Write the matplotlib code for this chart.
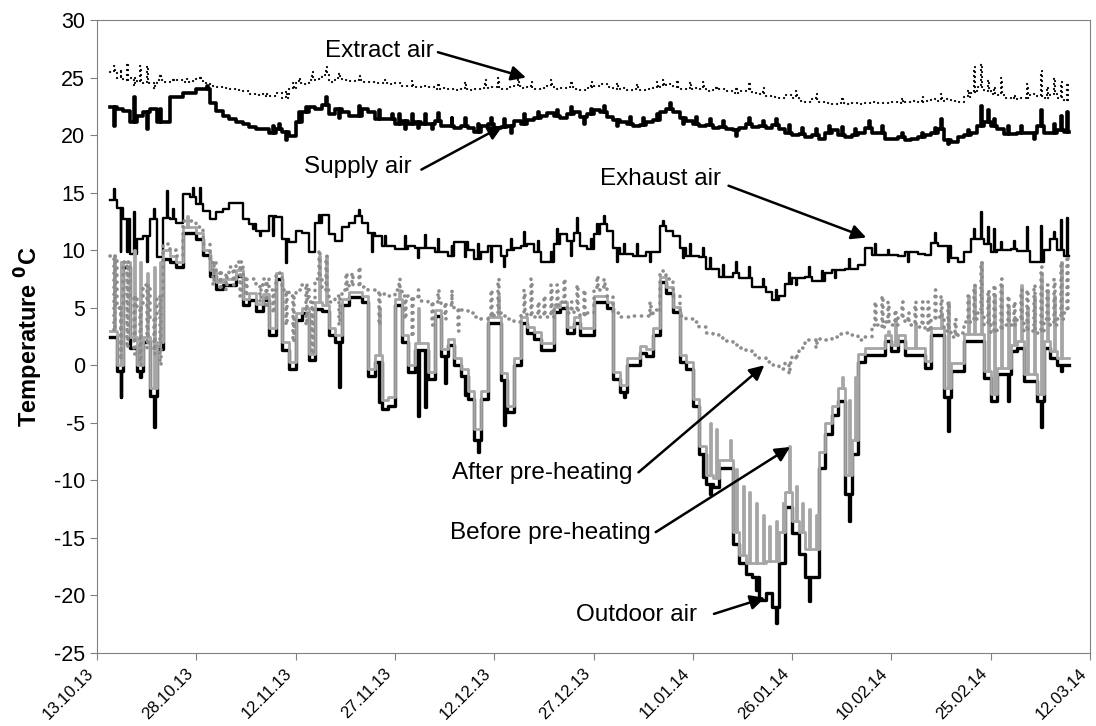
import matplotlib
matplotlib.use("Agg")
import matplotlib.pyplot as plt
from matplotlib.transforms import ScaledTranslation

plt.rcParams['font.family'] = ['Liberation Sans', 'DejaVu Sans']
plt.rcParams['mathtext.default'] = 'bf'
plt.rcParams['axes.unicode_minus'] = False

# x axis: days after 13.10.13, one label every 15 days
tick_days = [0, 15, 30, 45, 60, 75, 90, 105, 120, 135, 150]
tick_labels = ['13.10.13', '28.10.13', '12.11.13', '27.11.13', '12.12.13',
               '27.12.13', '11.01.14', '26.01.14', '10.02.14', '25.02.14',
               '12.03.14']

# daily values from 15.10.13 (day 2) to 07.03.14 (day 146)
days = list(range(2, 147))

outdoor = [2.5, -0.5, 8.5, 1.5, -0.5, 2.0, -2.7, 1.4, 9.2, 9.0,
           8.5, 11.5, 11.5, 11.0, 9.6, 7.8, 6.6, 7.0, 7.0, 7.8,
           5.2, 5.7, 4.7, 5.7, 2.6, 7.5, 1.3, -0.3, 3.9, 4.5,
           0.5, 4.9, 4.7, 2.6, 2.0, 5.2, 5.9, 5.9, 5.5, -0.9,
           0.3, -3.8, -3.5, 5.2, 2.0, -0.6, 1.3, 1.3, -1.2, 4.3,
           0.8, 1.8, 0.0, -0.9, -2.9, -6.5, -2.9, 3.7, 3.7, -1.3,
           -4.1, 0.0, 3.7, 2.8, 2.3, 1.3, 1.3, 4.6, 5.0, 2.8,
           3.7, 2.6, 2.6, 5.5, 5.5, 5.0, -1.2, -2.3, 0.0, 0.0,
           1.1, 0.8, 2.6, 7.2, 6.3, 4.6, 0.3, -0.3, -3.5, -7.7,
           -10.3, -10.6, -8.9, -8.9, -15.5, -17.2, -18.1, -18.4, -20.4, -19.8,
           -21.0, -17.2, -12.3, -14.6, -16.4, -18.4, -18.4, -8.9, -6.0, -4.3,
           -3.1, -11.2, -7.7, 0.3, 0.9, 0.9, 0.9, 2.1, 1.2, 2.1,
           0.9, 0.9, 0.9, -0.2, 2.6, 2.6, -2.8, -0.5, -0.5, 2.1,
           2.1, 2.1, -1.1, -3.1, -0.8, -0.8, 1.2, 1.5, -1.4, -1.4,
           -3.1, 1.5, 0.6, 0.0, 0.0]
outdoor_spikes = {3: -2.8, 6: -1.0, 8: -5.4, 36: -1.9, 42: -3.2, 48: -4.4,
                  49: -3.6, 52: -1.5, 55: -2.6, 57: -7.5, 61: -5.2, 79: -2.8,
                  91: -9.7, 92: -11.2, 99: -19.5, 102: -22.4, 107: -20.5,
                  113: -13.5, 128: -5.7, 137: -3.1, 142: -5.4, 145: -0.5}

before = [3.0, 0.0, 9.0, 2.5, 0.0, 2.5, -2.0, 2.0, 10.0, 9.5,
          9.0, 12.0, 12.0, 11.5, 10.0, 8.3, 7.2, 7.5, 7.5, 8.3,
          5.8, 6.3, 5.3, 6.2, 3.2, 8.0, 2.0, 0.3, 4.5, 5.0,
          1.0, 5.5, 5.2, 3.2, 2.6, 5.8, 6.4, 6.4, 6.0, -0.3,
          0.9, -3.0, -2.8, 5.8, 2.6, 0.0, 1.9, 1.9, -0.6, 4.8,
          1.4, 2.3, 0.6, -0.3, -2.2, -5.5, -2.2, 4.2, 4.2, -0.7,
          -3.5, 0.6, 4.2, 3.3, 2.9, 1.9, 1.9, 5.1, 5.5, 3.3,
          4.2, 3.2, 3.2, 6.0, 6.0, 5.5, -0.6, -1.7, 0.6, 0.6,
          1.7, 1.4, 3.2, 7.7, 6.8, 5.1, 0.9, 0.3, -2.9, -7.0,
          -9.5, -9.8, -8.2, -8.2, -14.5, -16.5, -17.2, -17.2, -17.2, -17.0,
          -17.0, -14.5, -11.0, -13.5, -14.5, -16.0, -16.0, -7.5, -5.0, -3.5,
          -2.0, -9.5, -6.5, 1.0, 1.5, 1.5, 1.5, 2.6, 1.8, 2.6,
          1.5, 1.5, 1.5, 0.4, 3.2, 3.2, -2.0, 0.2, 0.2, 2.7,
          2.7, 2.7, -0.5, -2.5, -0.2, -0.2, 1.8, 2.1, -0.8, -0.8,
          -2.5, 2.1, 1.2, 0.6, 0.6]
before_spikes = {2: 9.5, 3: 9.0, 5: 10.0, 6: 9.0, 7: 8.0, 8: 8.5, 9: 9.0,
                 13: 13.0, 33: 9.5, 34: 9.5, 42: 5.0, 45: 6.5, 48: 5.0, 60: 6.0,
                 92: -5.0, 93: -5.5, 95: -6.5, 96: -9.0, 97: -10.5, 98: -11.0,
                 99: -12.0, 100: -13.0, 101: -14.0, 102: -13.5, 103: -12.0,
                 104: -7.0, 105: -10.5, 106: -12.0, 107: -12.5, 108: -13.0,
                 112: -1.0, 113: -3.0, 114: -1.0, 119: 3.0, 120: 4.0, 123: 3.5,
                 127: 4.5, 128: 5.5, 131: 6.0, 132: 7.0, 133: 9.0, 134: 6.0,
                 135: 6.0, 136: 7.0, 137: 5.0, 138: 4.0, 139: 7.0, 140: 5.0,
                 141: 6.0, 142: 8.0, 143: 6.5, 144: 6.0, 145: 9.0}

after = [9.5, 5.0, 9.0, 6.0, 5.0, 7.0, 4.0, 6.0, 10.5, 10.0,
         9.5, 12.5, 12.5, 12.0, 10.5, 9.0, 8.0, 8.0, 8.5, 9.0,
         7.5, 7.5, 7.0, 7.5, 6.5, 8.0, 6.5, 6.0, 6.5, 7.0,
         5.5, 7.5, 6.5, 5.5, 6.0, 6.5, 7.0, 7.0, 6.8, 6.5,
         6.3, 6.2, 6.0, 6.5, 6.0, 5.8, 5.8, 5.6, 5.5, 5.5,
         5.3, 5.2, 5.0, 4.8, 4.5, 4.2, 4.0, 4.2, 4.5, 4.3,
         4.0, 3.8, 4.5, 4.3, 4.2, 4.3, 4.2, 5.2, 5.5, 4.5,
         4.8, 4.3, 4.5, 6.5, 6.8, 6.0, 4.5, 4.2, 4.2, 4.3,
         4.3, 4.3, 4.8, 8.2, 7.5, 6.0, 4.3, 4.0, 3.8, 3.3,
         2.8, 2.6, 2.4, 2.1, 1.8, 1.5, 1.2, 0.9, 0.6, 0.3,
         0.0, -0.3, 0.2, 0.8, 1.5, 2.2, 2.2, 2.3, 2.2, 2.5,
         2.7, 2.8, 2.6, 2.2, 2.5, 3.5, 3.3, 3.8, 3.5, 4.2,
         3.8, 3.5, 3.3, 3.0, 4.0, 4.2, 3.0, 2.5, 2.8, 3.8,
         4.0, 4.5, 3.5, 2.8, 3.2, 3.5, 3.5, 4.0, 3.0, 3.0,
         2.8, 4.0, 3.5, 4.0, 4.5]
after_spikes = {2: 3.0, 3: 0.5, 4: 1.5, 5: 1.0, 6: 0.0, 7: 1.5, 8: 1.0, 9: 0.0,
                17: 7.0, 18: 6.5, 19: 6.5, 20: 7.0, 21: 6.0, 22: 6.0, 24: 5.5,
                25: 5.0, 26: 4.5, 28: 3.5, 29: 2.0, 31: 3.5, 32: 1.0, 33: 10.0,
                34: 9.5, 36: 3.5, 37: 8.0, 38: 8.0, 39: 8.5, 42: 3.5, 45: 7.5,
                46: 4.0, 47: 2.5, 48: 6.5, 50: 3.5, 51: 6.5, 52: 4.0, 53: 6.5,
                54: 3.0, 59: 6.5, 60: 7.5, 64: 6.5, 65: 7.5, 66: 5.5, 67: 6.0,
                68: 7.0, 69: 7.0, 70: 7.5, 71: 5.5, 72: 7.0, 73: 6.5, 75: 7.8,
                76: 7.5, 83: 5.5, 84: 5.0, 104: -0.8, 105: 0.5, 108: 1.5,
                117: 5.5, 118: 6.0, 119: 5.5, 120: 4.8, 121: 5.5, 122: 4.5,
                123: 5.5, 124: 5.5, 125: 5.5, 126: 6.5, 127: 6.0, 128: 5.5,
                129: 4.0, 131: 6.0, 132: 7.0, 133: 9.0, 134: 6.5, 135: 7.0,
                136: 7.5, 137: 6.0, 138: 5.5, 139: 6.5, 140: 6.5, 141: 7.0,
                142: 8.5, 143: 7.0, 144: 7.5, 145: 9.0, 146: 9.5}

exhaust = [14.4, 13.7, 12.7, 9.7, 11.0, 11.2, 12.7, 9.4, 12.8, 12.7,
           12.4, 14.9, 14.6, 14.0, 13.4, 12.7, 13.3, 13.6, 14.1, 14.1,
           12.7, 12.3, 11.7, 11.7, 13.0, 12.9, 11.0, 10.7, 11.7, 11.5,
           9.8, 12.4, 13.1, 11.4, 10.8, 12.0, 12.4, 13.0, 12.4, 11.5,
           11.2, 10.4, 10.4, 10.1, 10.1, 10.4, 10.2, 10.2, 10.2, 9.8,
           9.8, 9.5, 10.7, 10.7, 10.0, 9.2, 9.8, 10.4, 10.4, 9.5,
           10.0, 10.2, 10.4, 10.5, 9.8, 9.0, 9.0, 10.5, 11.4, 10.8,
           11.5, 10.4, 10.1, 11.4, 12.3, 11.7, 10.2, 9.7, 9.7, 9.5,
           9.5, 9.8, 9.8, 12.1, 11.7, 11.2, 10.2, 9.5, 9.5, 9.4,
           8.4, 8.4, 7.7, 7.7, 8.0, 7.6, 7.6, 6.8, 6.8, 6.4,
           5.7, 6.0, 7.1, 7.6, 7.6, 7.7, 7.3, 7.3, 8.0, 8.3,
           8.3, 8.4, 8.4, 8.7, 10.2, 9.6, 9.6, 9.6, 9.6, 9.5,
           9.8, 9.8, 9.7, 9.6, 10.6, 10.4, 10.4, 9.3, 9.0, 9.8,
           11.0, 11.0, 10.5, 9.8, 10.0, 10.0, 10.1, 9.9, 9.9, 9.0,
           9.0, 10.0, 11.0, 10.0, 9.5]
exhaust_spikes = {2: 15.3, 3: 9.8, 4: 9.8, 5: 13.3, 7: 9.0, 8: 13.6, 10: 15.1,
                  11: 13.6, 14: 15.4, 15: 15.4, 23: 11.8, 24: 11.2, 26: 11.2,
                  28: 8.9, 33: 13.1, 39: 13.5, 41: 9.8, 43: 11.2, 46: 11.2,
                  48: 9.3, 49: 11.3, 51: 11.0, 53: 10.4, 55: 9.4, 57: 10.5,
                  59: 9.0, 61: 8.5, 62: 11.0, 64: 11.6, 66: 10.8, 68: 9.8,
                  69: 11.8, 71: 9.5, 72: 12.8, 74: 11.0, 75: 12.3, 76: 13.0,
                  78: 9.0, 79: 10.5, 81: 10.5, 83: 9.0, 85: 12.5, 88: 9.3,
                  89: 10.5, 91: 10.2, 92: 9.3, 94: 8.7, 96: 9.0, 98: 8.5,
                  100: 7.5, 102: 6.5, 104: 8.0, 105: 7.0, 107: 8.5, 109: 8.2,
                  111: 7.6, 113: 9.2, 117: 10.5, 119: 10.0, 122: 9.0, 126: 11.5,
                  128: 9.0, 132: 11.8, 133: 13.3, 134: 12.0, 135: 11.8,
                  136: 10.7, 138: 10.8, 140: 12.0, 142: 12.1, 144: 11.6,
                  145: 12.6, 146: 12.8}

supply = [22.4, 22.3, 22.1, 21.1, 21.7, 22.0, 22.3, 21.1, 21.1, 23.3,
          23.3, 23.7, 23.7, 24.0, 24.0, 22.8, 22.1, 21.7, 21.4, 21.1,
          21.0, 20.7, 20.5, 20.5, 20.2, 20.5, 20.3, 19.9, 21.1, 22.0,
          22.4, 22.3, 22.6, 21.8, 22.3, 22.0, 21.7, 21.7, 22.3, 22.0,
          21.4, 21.4, 21.4, 21.0, 21.2, 21.0, 21.1, 21.0, 21.0, 21.2,
          20.8, 20.8, 20.6, 20.8, 20.6, 20.3, 20.8, 21.0, 20.6, 20.7,
          20.8, 21.2, 21.0, 21.3, 21.5, 21.7, 21.9, 21.7, 21.5, 21.8,
          22.0, 21.6, 21.8, 22.2, 22.0, 21.6, 21.3, 21.1, 21.0, 20.8,
          20.9, 21.1, 21.3, 22.0, 22.3, 22.0, 21.5, 21.2, 21.0, 20.8,
          20.9, 20.6, 20.7, 20.5, 20.4, 20.6, 21.0, 20.7, 20.8, 20.6,
          20.9, 20.5, 20.2, 20.0, 20.1, 19.8, 20.0, 19.7, 20.2, 20.4,
          20.0, 19.8, 20.0, 20.2, 20.6, 20.2, 20.2, 19.7, 19.7, 19.8,
          19.6, 19.7, 19.8, 20.0, 20.2, 20.5, 19.6, 19.4, 19.8, 20.0,
          20.2, 20.8, 21.1, 20.8, 20.5, 20.1, 20.1, 20.2, 20.2, 20.2,
          20.8, 20.2, 20.2, 20.4, 20.3]
supply_spikes = {2: 20.8, 5: 23.3, 7: 20.5, 9: 22.3, 16: 24.3, 26: 20.8,
                 27: 21.0, 28: 19.6, 30: 22.0, 31: 22.4, 34: 23.3, 36: 21.5,
                 39: 22.5, 42: 22.2, 44: 21.8, 45: 21.8, 46: 20.5, 47: 21.8,
                 48: 20.6, 49: 21.8, 50: 20.5, 51: 21.9, 53: 21.5, 55: 21.5,
                 57: 21.0, 59: 21.5, 61: 21.4, 62: 20.2, 64: 21.8, 66: 22.0,
                 69: 22.2, 71: 22.4, 73: 21.0, 74: 22.3, 76: 22.5, 78: 20.8,
                 80: 21.6, 82: 21.5, 84: 21.8, 86: 22.8, 88: 21.0, 90: 21.6,
                 92: 21.4, 94: 21.2, 96: 19.9, 98: 21.5, 100: 21.2, 102: 21.4,
                 104: 20.9, 106: 20.6, 108: 20.5, 110: 20.8, 112: 20.7,
                 114: 20.5, 116: 21.2, 118: 20.8, 121: 20.2, 124: 20.2,
                 126: 20.6, 127: 21.4, 128: 19.2, 131: 20.4, 133: 22.5,
                 134: 22.2, 135: 21.4, 137: 20.8, 139: 20.8, 141: 19.7,
                 142: 22.2, 144: 21.0, 145: 21.7, 146: 22.0}

extract = [25.5, 25.0, 24.8, 25.0, 24.6, 24.5, 24.5, 24.8, 24.6, 24.7,
           24.8, 24.6, 24.7, 24.9, 24.5, 24.3, 24.2, 24.1, 24.0, 23.9,
           23.8, 23.6, 23.5, 23.6, 23.4, 23.7, 23.2, 24.0, 24.5, 24.4,
           24.8, 24.9, 25.2, 24.6, 25.0, 24.8, 24.7, 24.8, 24.6, 24.6,
           24.5, 24.5, 24.4, 24.5, 24.3, 24.3, 24.2, 24.3, 24.2, 24.0,
           24.1, 24.0, 23.9, 24.0, 23.9, 24.0, 24.1, 24.2, 24.2, 24.0,
           24.2, 24.3, 24.1, 24.2, 24.0, 24.1, 24.3, 24.0, 24.1, 24.2,
           24.0, 23.9, 24.1, 24.3, 24.4, 24.2, 24.0, 24.1, 23.9, 24.0,
           23.9, 24.0, 24.1, 24.3, 24.4, 24.2, 24.0, 24.0, 24.1, 24.0,
           23.8, 23.9, 24.0, 23.8, 23.7, 23.8, 24.0, 23.7, 23.6, 23.4,
           23.3, 23.2, 23.5, 23.2, 23.0, 22.9, 23.1, 22.9, 22.8, 22.7,
           22.8, 22.7, 22.8, 22.7, 22.8, 22.9, 22.8, 22.8, 22.9, 22.8,
           22.9, 23.0, 22.9, 23.0, 23.1, 23.0, 23.1, 23.0, 22.9, 23.3,
           23.7, 24.2, 23.8, 23.6, 23.5, 23.2, 23.1, 23.2, 23.2, 23.6,
           23.4, 23.2, 23.6, 23.2, 23.0]
extract_spikes = {2: 26.0, 3: 25.7, 4: 26.3, 5: 24.3, 6: 26.0, 7: 26.0, 8: 24.0,
                  9: 25.3, 11: 25.0, 13: 24.9, 15: 25.1, 25: 23.3, 28: 23.8,
                  29: 24.5, 30: 25.0, 32: 25.5, 34: 25.9, 36: 25.4, 39: 25.1,
                  43: 24.8, 47: 24.7, 51: 24.5, 55: 24.6, 58: 24.8, 60: 25.0,
                  63: 24.9, 65: 24.6, 68: 24.8, 71: 24.7, 74: 24.6, 78: 24.5,
                  81: 24.4, 84: 24.6, 85: 24.8, 87: 24.8, 89: 24.6, 91: 24.6,
                  93: 24.3, 96: 24.2, 98: 24.6, 100: 24.1, 105: 23.8,
                  108: 23.6, 112: 23.3, 121: 23.2, 124: 23.3, 127: 23.6,
                  131: 23.9, 132: 25.9, 133: 26.2, 134: 24.8, 135: 24.2,
                  136: 25.0, 138: 23.5, 140: 24.4, 142: 25.6, 143: 24.2,
                  144: 25.0, 145: 24.6, 146: 24.5}


def step_series(levels, spikes):
    # one level per day plus a short excursion where the day has a spike
    xs, ys = [], []
    for d, v in zip(days, levels):
        xs.append(d)
        ys.append(v)
        if d in spikes:
            xs += [d + 0.55, d + 0.7]
            ys += [spikes[d], v]
    xs.append(days[-1] + 0.8)
    ys.append(levels[-1])
    return xs, ys


fig = plt.figure(figsize=(10.96, 7.26), dpi=100)
ax = fig.add_axes([97 / 1096, 73 / 726, 993 / 1096, 633 / 726])

x, y = step_series(exhaust, exhaust_spikes)
ax.plot(x, y, drawstyle='steps-post', color='black', lw=1.7)
x, y = step_series(outdoor, outdoor_spikes)
ax.plot(x, y, drawstyle='steps-post', color='black', lw=2.4)
x, y = step_series(before, before_spikes)
ax.plot(x, y, drawstyle='steps-post', color='#a6a6a6', lw=2.0)
x, y = step_series(after, after_spikes)
ax.plot(x, y, drawstyle='steps-post', color='#8c8c8c', lw=2.6,
        linestyle=(0, (0.05, 1.9)), dash_capstyle='round')
x, y = step_series(supply, supply_spikes)
ax.plot(x, y, drawstyle='steps-post', color='black', lw=2.6)
x, y = step_series(extract, extract_spikes)
ax.plot(x, y, drawstyle='steps-post', color='black', lw=1.6,
        linestyle=(0, (0.05, 2.2)), dash_capstyle='round')

ax.set_xlim(0, 150)
ax.set_ylim(-25, 30)
ax.set_yticks(range(-25, 31, 5))
ax.set_xticks(tick_days)
ax.set_xticklabels(tick_labels, rotation=45, ha='right', va='top',
                   rotation_mode='anchor', fontsize=12)
ax.tick_params(axis='y', labelsize=15.5, length=5, color='#808080')
ax.tick_params(axis='x', length=5, color='#808080', pad=4)
# pull the slanted labels a little left so the last one stays inside
shift = ScaledTranslation(-8 / 72, 0, fig.dpi_scale_trans)
for lbl in ax.get_xticklabels():
    lbl.set_transform(lbl.get_transform() + shift)
for s in ax.spines.values():
    s.set_color('#808080')
ax.set_ylabel('Temperature $^0$C', fontsize=17, fontweight='bold', labelpad=6)

# labels (right end of text) and arrows
labels = [('Extract air', (50.8, 27.3), (51.5, 27.2), (64.8, 25.0)),
          ('Supply air', (47.6, 17.2), (49.0, 17.0), (61.3, 20.8)),
          ('Exhaust air', (94.2, 16.2), (95.4, 15.6), (116.2, 11.1)),
          ('After pre-heating', (80.9, -9.35), (81.8, -9.3), (100.8, 0.0)),
          ('Before pre-heating', (83.6, -14.6), (84.4, -14.5), (104.7, -7.1)),
          ('Outdoor air', (90.6, -21.7), (93.2, -21.6), (100.9, -20.2))]
for text, pos, start, end in labels:
    ax.text(pos[0], pos[1], text, ha='right', va='center', fontsize=17.5)
    ax.annotate('', xy=end, xytext=start,
                arrowprops=dict(arrowstyle='-|>', color='black', lw=1.8,
                                mutation_scale=22, shrinkA=0, shrinkB=0))

fig.savefig('out.png', dpi=100)
